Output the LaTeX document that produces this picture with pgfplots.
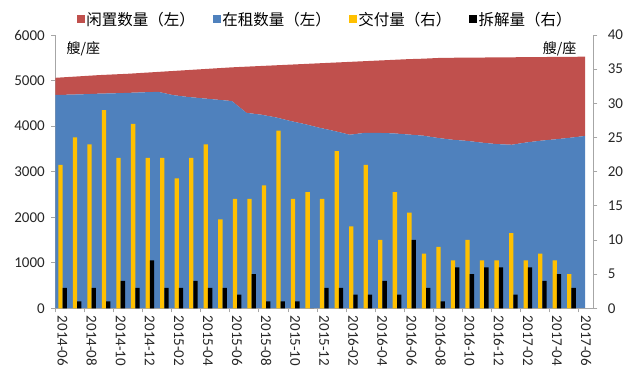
\documentclass[border=0pt]{standalone}
\usepackage{fontspec}
\setmainfont{Carlito}
\newfontfamily\cjk{Noto Sans CJK SC}
\usepackage{pgfplots}
\usepackage{pgfplotstable}
\pgfplotsset{compat=1.18}
\definecolor{cRed}{HTML}{C0504D}
\definecolor{cBlue}{HTML}{4F81BD}
\definecolor{cYel}{HTML}{FFC000}
\definecolor{axgray}{HTML}{A6A6A6}

\pgfplotstableread{
x rent idle
0 4683 377
1 4690 390
2 4700 400
3 4712 408
4 4720 415
5 4730 420
6 4742 428
7 4752 438
8 4680 530
9 4640 590
10 4610 640
11 4580 690
12 4550 740
13 4290 1015
14 4250 1070
15 4190 1145
16 4110 1240
17 4040 1325
18 3960 1420
19 3890 1505
20 3810 1600
21 3850 1575
22 3850 1590
23 3840 1615
24 3815 1655
25 3790 1690
26 3740 1755
27 3700 1800
28 3675 1830
29 3636 1869
30 3605 1905
31 3590 1920
32 3640 1875
33 3680 1835
34 3710 1810
35 3745 1775
36 3783 1742
}\areadata

\pgfplotstableread{
x del dem
0 21 3
1 25 1
2 24 3
3 29 1
4 22 4
5 27 3
6 22 7
7 22 3
8 19 3
9 22 4
10 24 3
11 13 3
12 16 2
13 16 5
14 18 1
15 26 1
16 16 1
17 17 0
18 16 3
19 23 3
20 12 2
21 21 2
22 10 4
23 17 2
24 14 10
25 8 3
26 9 1
27 7 6
28 10 5
29 7 6
30 7 6
31 11 2
32 7 6
33 8 4
34 7 5
35 5 3
}\bardata

\pgfplotsset{
  common/.style={
    scale only axis, width=538pt, height=273.3pt,
    at={(0pt,0pt)}, anchor=south west,
    tick align=outside, major tick length=4pt, minor tick length=4pt,
    every tick/.style={axgray, line width=0.8pt},
    axis line style={axgray, line width=0.8pt},
    tick label style={font=\fontsize{15}{18}\selectfont, text=black!85},
    /pgf/number format/assume math mode=true,
    /pgf/number format/1000 sep={},
  },
}

\begin{document}
\begin{tikzpicture}
\useasboundingbox (-55.3pt,-73.7pt) rectangle (584.7pt,308.3pt);
\begin{axis}[common,
  xmin=0, xmax=36.56, ymin=0, ymax=6000,
  axis x line=none, axis y line*=left,
  ytick={0,1000,...,6000},
  yticklabel style={xshift=-3pt},
  stack plots=y,
]
\addplot[fill=cBlue, draw=none] table[x=x,y=rent]{\areadata} \closedcycle;
\addplot[fill=cRed, draw=none] table[x=x,y=idle]{\areadata} \closedcycle;
\end{axis}
\begin{axis}[common,
  xmin=-0.5, xmax=36.5, ymin=0, ymax=40,
  axis x line*=bottom, axis y line*=right,
  ytick={0,5,...,40},
  yticklabel style={xshift=7pt},
  xtick={0,2,...,36},
  xticklabels={2014-06,2014-08,2014-10,2014-12,2015-02,2015-04,2015-06,2015-08,2015-10,2015-12,2016-02,2016-04,2016-06,2016-08,2016-10,2016-12,2017-02,2017-04,2017-06},
  xticklabel style={rotate=-90, anchor=west, yshift=0pt},
  minor xtick={-0.5,1.5,...,35.5},
  every major x tick/.append style={draw=none},
  legend style={draw=none, fill=none, at={(axis description cs:0.502,1.058)}, anchor=center,
    font=\cjk\fontsize{15.5}{18}\selectfont, legend columns=4,
    /tikz/every even column/.append style={column sep=16pt}},
]
\addlegendimage{legend image code/.code={\fill[cRed] (0pt,-3.5pt) rectangle (7pt,3.5pt);}}
\addlegendentry{闲置数量（左）}
\addlegendimage{legend image code/.code={\fill[cBlue] (0pt,-3.5pt) rectangle (7pt,3.5pt);}}
\addlegendentry{在租数量（左）}
\addlegendimage{legend image code/.code={\fill[cYel] (0pt,-3.5pt) rectangle (7pt,3.5pt);}}
\addlegendentry{交付量（右）}
\addlegendimage{legend image code/.code={\fill[black] (0pt,-3.5pt) rectangle (7pt,3.5pt);}}
\addlegendentry{拆解量（右）}
\addplot[ybar, bar width=4.3pt, bar shift=-2.15pt, fill=cYel, draw=none, forget plot] table[x=x,y=del]{\bardata};
\addplot[ybar, bar width=4.3pt, bar shift=2.15pt, fill=black, draw=none, forget plot] table[x=x,y=dem]{\bardata};
\node[anchor=west, font=\cjk\fontsize{14}{16}\selectfont] at (axis description cs:0.0143,0.95) {艘/座};
\node[anchor=east, font=\cjk\fontsize{14}{16}\selectfont] at (axis description cs:0.975,0.95) {艘/座};
\end{axis}
\end{tikzpicture}
\end{document}
